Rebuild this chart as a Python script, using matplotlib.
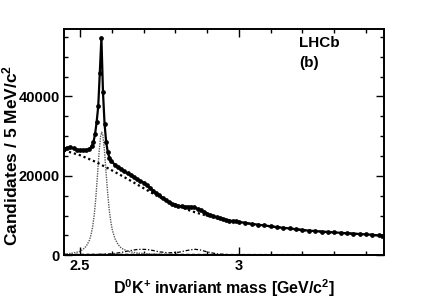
#!/usr/bin/env python3
"""D0K+ invariant mass spectrum with fit components (LHCb style panel b)."""

import matplotlib
matplotlib.use("Agg")
import matplotlib.pyplot as plt
from matplotlib.ticker import FixedLocator, MultipleLocator
import numpy as np

# data points (GeV/c^2, candidates per 5 MeV/c^2)
mass = [2.450, 2.460, 2.470, 2.480, 2.490, 2.500, 2.510, 2.520, 2.530,
        2.5375, 2.5425, 2.5475, 2.5525, 2.5575, 2.5625, 2.5675, 2.5725,
        2.5775, 2.5825, 2.5875, 2.5925, 2.5975,
        2.610, 2.620, 2.630, 2.640, 2.650, 2.660, 2.670, 2.680, 2.690, 2.700,
        2.710, 2.720, 2.730, 2.740, 2.750, 2.760, 2.770, 2.780, 2.790, 2.800,
        2.810, 2.820, 2.830, 2.840, 2.850, 2.860, 2.870, 2.880, 2.890, 2.900,
        2.910, 2.920, 2.930, 2.940, 2.950, 2.960, 2.970, 2.980, 2.990, 3.000,
        3.020, 3.040, 3.060, 3.080, 3.100, 3.120, 3.140, 3.160, 3.180, 3.200,
        3.220, 3.240, 3.260, 3.280, 3.300, 3.320, 3.340, 3.360, 3.380, 3.400,
        3.420, 3.440, 3.450]
counts = [26800, 27100, 27200, 26900, 26600, 26500, 26500, 26550, 26700,
          27500, 28500, 30500, 33500, 37500, 46000, 54800, 41000,
          33000, 28500, 26000, 24600, 23800,
          22800, 22100, 21600, 21100, 20600, 20100, 19600, 19100, 18700, 18300,
          17700, 17000, 16300, 15700, 15100, 14500, 13900, 13300, 12900, 12600,
          12400, 12300, 12250, 12200, 12200, 12100, 11700, 11300, 10900, 10500,
          10150, 9850, 9550, 9300, 9100, 8900, 8750, 8600, 8500, 8400,
          8150, 7900, 7700, 7500, 7300, 7050, 6900, 6750, 6550, 6350,
          6200, 6100, 5950, 5850, 5750, 5650, 5550, 5450, 5350, 5250,
          5150, 5000, 4950]

# combinatorial background (dotted black)
bkg_mass = [2.45, 2.50, 2.55, 2.60, 2.65, 2.70, 2.75, 2.80, 2.85, 2.90,
            2.95, 3.00, 3.05, 3.10, 3.15, 3.20, 3.25, 3.30, 3.35, 3.40, 3.45]
bkg_counts = [26400, 25200, 23500, 21400, 19200, 16900, 14600, 12800, 11100, 9950,
              9050, 8350, 7750, 7250, 6800, 6350, 6000, 5700, 5450, 5200, 4950]

# D*s2(2573)+ signal (grey dotted)
sig_mass = [2.45, 2.47, 2.49, 2.50, 2.51, 2.52, 2.53, 2.535, 2.54, 2.545,
            2.55, 2.555, 2.56, 2.565, 2.5686, 2.572, 2.577, 2.582, 2.587,
            2.592, 2.597, 2.602, 2.61, 2.62, 2.63, 2.65, 2.68, 2.72, 2.80,
            2.90, 3.00, 3.20, 3.45]
sig_counts = [300, 450, 750, 1000, 1500, 2300, 3800, 5200, 7200, 10200,
              14500, 20000, 25800, 30000, 31000, 30200, 26500, 21000, 15800,
              11500, 8500, 6300, 4200, 2700, 1800, 1000, 550, 320, 160,
              90, 60, 30, 20]

# feed-down reflections (dash-dotted)
refl_mass = [2.45, 2.55, 2.60, 2.63, 2.66, 2.68, 2.695, 2.71, 2.73, 2.75,
             2.78, 2.81, 2.83, 2.85, 2.863, 2.88, 2.90, 2.93, 2.97, 3.05, 3.45]
refl_counts = [100, 200, 350, 700, 1200, 1450, 1500, 1450, 1200, 850,
               600, 750, 1100, 1400, 1500, 1300, 850, 350, 150, 80, 50]

# flat small component along the bottom
flat_mass = [2.45, 2.70, 3.00, 3.45]
flat_counts = [250, 250, 200, 150]

plt.rcParams["font.family"] = ["Liberation Sans", "DejaVu Sans"]
plt.rcParams["font.weight"] = "bold"
plt.rcParams["mathtext.fontset"] = "custom"
plt.rcParams["mathtext.rm"] = "Liberation Sans:bold"
plt.rcParams["mathtext.it"] = "Liberation Sans:bold"
plt.rcParams["mathtext.bf"] = "Liberation Sans:bold"

fig = plt.figure(figsize=(4.27, 3.01), dpi=100)
ax = fig.add_axes([0.150, 0.152, 0.749, 0.752])

ax.plot(flat_mass, flat_counts, color="black", linewidth=0.8, linestyle=(0, (3, 2)))
ax.plot(refl_mass, refl_counts, color="black", linewidth=0.9, linestyle=(0, (3, 1.5, 1, 1.5)))
ax.plot(sig_mass, sig_counts, color="0.35", linewidth=1.0, linestyle=(0, (1, 0.8)))
ax.plot(bkg_mass, bkg_counts, color="black", linewidth=1.6, linestyle=(0, (1, 1.3)))

errs = np.sqrt(np.array(counts))
ax.plot(mass, counts, color="black", linewidth=1.6)
ax.errorbar(mass, counts, yerr=errs, fmt="o", color="black", markersize=2.4,
            elinewidth=0.8, capsize=0)

ax.set_xlim(2.45, 3.456)
ax.set_ylim(0, 57000)

ax.xaxis.set_major_locator(FixedLocator([2.5, 3.0]))
ax.xaxis.set_minor_locator(MultipleLocator(0.1))
ax.set_xticklabels(["2.5", "3"])
ax.yaxis.set_major_locator(MultipleLocator(20000))
ax.yaxis.set_minor_locator(MultipleLocator(5000))

ax.tick_params(which="both", direction="in", top=True, right=True, width=1.0,
               labelsize=10.5, pad=3)
ax.tick_params(which="major", length=6)
ax.tick_params(which="minor", length=3.2)
for lab in ax.get_xticklabels() + ax.get_yticklabels():
    lab.set_fontweight("bold")
for spine in ax.spines.values():
    spine.set_linewidth(1.4)

ax.set_xlabel(r"D$^\mathrm{0}$K$^\mathrm{+}$ invariant mass [GeV/c$^\mathrm{2}$]",
              fontsize=11.5, fontweight="bold", labelpad=3)
ax.set_ylabel(r"Candidates / 5 MeV/c$^\mathrm{2}$", fontsize=12.5,
              fontweight="bold")
ax.yaxis.set_label_coords(-0.135, 0.44)

ax.text(0.735, 0.97, "LHCb", transform=ax.transAxes, fontsize=11,
        fontweight="bold", va="top")
ax.text(0.735, 0.88, "(b)", transform=ax.transAxes, fontsize=11,
        fontweight="bold", va="top")

fig.savefig("out.png", dpi=100)
